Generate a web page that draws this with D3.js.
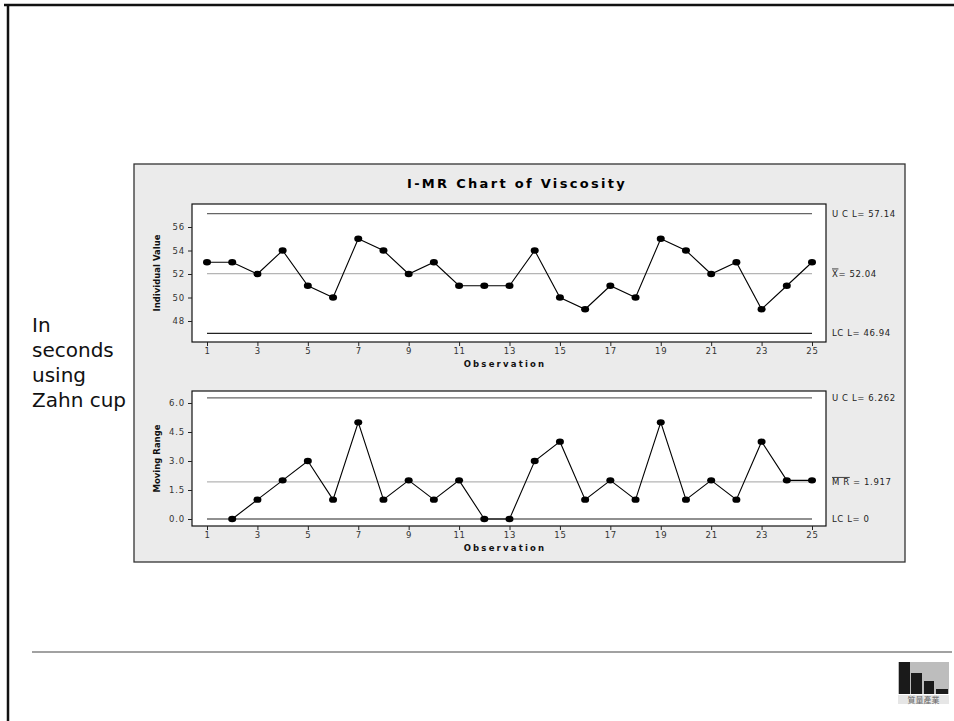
<!DOCTYPE html>
<html>
<head>
<meta charset="utf-8">
<script src="https://cdn.jsdelivr.net/npm/d3@7"></script>
<style>
  body { margin: 0; background: #fff; }
  svg { display: block; font-family: "DejaVu Sans", Verdana, sans-serif; }
</style>
</head>
<body>
<svg id="slide" width="954" height="721"></svg>
<script>
const observations = d3.range(1, 26)
const individualValues = [53,53,52,54,51,50,55,54,52,53,51,51,51,54,50,49,51,50,55,54,52,53,49,51,53]
const movingRanges = [null,0,1,2,3,1,5,1,2,1,2,0,0,3,4,1,2,1,5,1,2,1,4,2,2]
const iLimits = [57.14, 52.04, 46.94]   // UCL, center, LCL
const mrLimits = [6.262, 1.917, 0]
const iTicks = [48,50,52,54,56]
const mrTicks = [0,1.5,3,4.5,6]
const xTicks = d3.range(1, 26, 2)
const sideNote = ["In", "seconds", "using", "Zahn cup"]

const svg = d3.select("#slide")

// slide frame
svg.append("line").attr("x1",4).attr("x2",954).attr("y1",5).attr("y2",5).attr("stroke","#111").attr("stroke-width",2.5)
svg.append("line").attr("x1",8).attr("x2",8).attr("y1",4).attr("y2",721).attr("stroke","#111").attr("stroke-width",2.5)
svg.append("line").attr("x1",32).attr("x2",952).attr("y1",652).attr("y2",652).attr("stroke","#444").attr("stroke-width",1.2)

// side note
svg.append("g").selectAll("text").data(sideNote).enter().append("text")
   .attr("x",32).attr("y",(d,i)=>332+i*25)
   .attr("font-family","Tahoma, 'DejaVu Sans', sans-serif")
   .attr("font-size",20).attr("fill","#111").text(d=>d)

// chart panel
svg.append("rect").attr("x",134).attr("y",164).attr("width",771).attr("height",398)
   .attr("fill","#ebebeb").attr("stroke","#333").attr("stroke-width",1.3)

svg.append("text").attr("x",517).attr("y",188).attr("text-anchor","middle")
   .attr("font-size",13).attr("font-weight","bold").attr("letter-spacing",2.3).attr("fill","#000")
   .text("I-MR Chart of Viscosity")

const x = d3.scaleLinear().domain([1,25]).range([207,812])

function panel(opts){
    const g = svg.append("g")
    const y = opts.y
    g.append("rect").attr("x",192).attr("y",opts.top).attr("width",634).attr("height",opts.bottom-opts.top)
     .attr("fill","#fff").attr("stroke","#111").attr("stroke-width",1.2)

    // control lines
    const lim = opts.limits
    g.selectAll(".lim").data(lim).enter().append("line")
     .attr("x1",x(1)).attr("x2",x(25))
     .attr("y1",d=>y(d)).attr("y2",d=>y(d))
     .attr("stroke",(d,i)=> i===1 ? "#b5b5b5" : (i===0 ? "#666" : "#222"))
     .attr("stroke-width",(d,i)=> i===1 ? 1.3 : 1.2)

    const yAxis = d3.axisLeft(y).tickValues(opts.ticks).tickSize(4).tickPadding(3).tickFormat(opts.fmt)
    const ga = g.append("g").attr("transform","translate(192,0)").call(yAxis)
    ga.select(".domain").remove()
    ga.selectAll("text").attr("font-size",8.5).attr("fill","#333").attr("font-family","'DejaVu Sans', sans-serif").attr("letter-spacing",0.8)
    ga.selectAll("line").attr("stroke","#222")

    const xAxis = d3.axisBottom(x).tickValues(xTicks).tickSize(4).tickPadding(2)
    const gx = g.append("g").attr("transform","translate(0,"+opts.bottom+")").call(xAxis)
    gx.select(".domain").remove()
    gx.selectAll("text").attr("font-size",8.5).attr("fill","#333").attr("font-family","'DejaVu Sans', sans-serif").attr("letter-spacing",0.8)
    gx.selectAll("line").attr("stroke","#222")

    g.append("text").attr("x",505).attr("y",opts.bottom+25).attr("text-anchor","middle")
     .attr("font-size",8.5).attr("font-weight","bold").attr("letter-spacing",2.2).attr("fill","#111")
     .text("Observation")

    g.append("text").attr("transform","translate(160,"+((opts.top+opts.bottom)/2)+") rotate(-90)")
     .attr("text-anchor","middle").attr("font-size",8.5).attr("font-weight","bold").attr("fill","#111")
     .text(opts.ylabel)

    // series
    const pts = observations.map((o,i)=>[o,opts.values[i]]).filter(d=>d[1]!==null)
    g.append("path").datum(pts)
     .attr("d",d3.line().x(d=>x(d[0])).y(d=>y(d[1])))
     .attr("fill","none").attr("stroke","#000").attr("stroke-width",1.1)
    g.selectAll("ellipse").data(pts).enter().append("ellipse")
     .attr("cx",d=>x(d[0])).attr("cy",d=>y(d[1])).attr("rx",4).attr("ry",3.2).attr("fill","#000")

    // limit labels
    opts.labels.forEach((lab,i)=>{
        const t = g.append("text").attr("x",832).attr("y",y(lim[i])+3)
          .attr("font-size",8.5).attr("fill","#222").attr("letter-spacing",0.6)
        lab(t)
    })
}

panel({
    top:204, bottom:342,
    y: d3.scaleLinear().domain([48,56]).range([321,227]),
    limits: iLimits, ticks: iTicks, fmt: d3.format("d"),
    values: individualValues, ylabel: "Individual Value",
    labels: [
        t=>t.text("U C L= " + iLimits[0].toFixed(2)),
        t=>{ t.append("tspan").attr("text-decoration","overline").text("X"); t.append("tspan").text("= " + iLimits[1].toFixed(2)) },
        t=>t.text("LC L= " + iLimits[2].toFixed(2))
    ]
})

panel({
    top:391, bottom:526,
    y: d3.scaleLinear().domain([0,6]).range([519,403]),
    limits: mrLimits, ticks: mrTicks, fmt: d3.format(".1f"),
    values: movingRanges, ylabel: "Moving Range",
    labels: [
        t=>t.text("U C L= " + mrLimits[0].toFixed(3)),
        t=>{ t.append("tspan").attr("text-decoration","overline").text("M R"); t.append("tspan").text(" = " + mrLimits[1].toFixed(3)) },
        t=>t.text("LC L= " + mrLimits[2])
    ]
})

// logo (approximate)
const logo = svg.append("g").attr("transform","translate(898,662)")
logo.append("rect").attr("x",0).attr("y",0).attr("width",51).attr("height",32).attr("fill","#bdbdbd")
const bars = [[1,0,11,32],[13,11,11,21],[26,19,10,13],[38,27,12,5]]
logo.selectAll(".b").data(bars).enter().append("rect")
    .attr("x",d=>d[0]).attr("y",d=>d[1]).attr("width",d=>d[2]).attr("height",d=>d[3]).attr("fill","#1a1a1a")
logo.append("rect").attr("x",0).attr("y",33).attr("width",51).attr("height",9).attr("fill","#e6e6e6")
logo.append("text").attr("x",25.5).attr("y",41).attr("text-anchor","middle")
    .attr("font-family","'Noto Sans CJK SC', sans-serif").attr("font-size",8).attr("fill","#666").text("質量產業")
</script>
</body>
</html>
